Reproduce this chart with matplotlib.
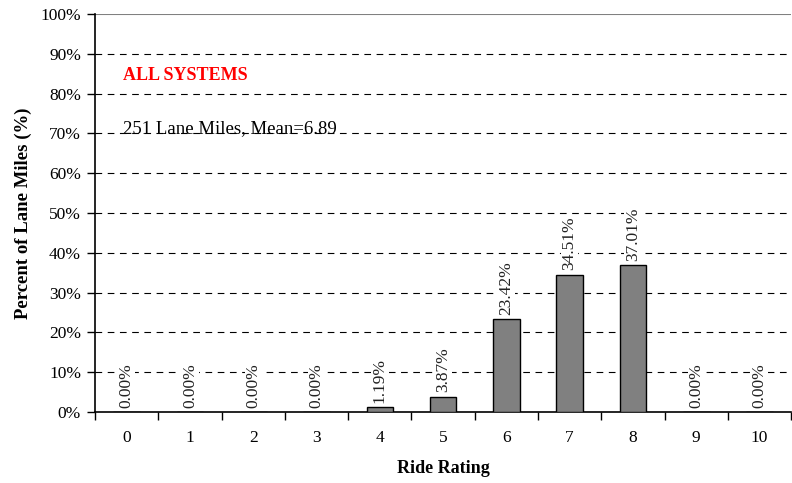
import numpy as np
import matplotlib.pyplot as plt

plt.rcParams['font.family'] = ['Liberation Serif', 'DejaVu Serif']

# 数据
ratings = [0, 1, 2, 3, 4, 5, 6, 7, 8, 9, 10]
percents = [0.00, 0.00, 0.00, 0.00, 1.19, 3.87, 23.42, 34.51, 37.01, 0.00, 0.00]
title_text = "ALL SYSTEMS"
info_text = "251 Lane Miles, Mean=6.89"

fig = plt.figure(figsize=(7.92, 4.83), dpi=100)
ax = fig.add_axes([95 / 792, 1 - 412 / 483, 1 - 95 / 792 - 0.001, (412 - 14) / 483])

x = np.arange(len(ratings))
bars = ax.bar(x, percents, width=0.42, color='#808080', edgecolor='black', linewidth=1.0, zorder=3)

# 柱顶标签（竖排，白底遮住虚线）
for xi, v in zip(x, percents):
    ax.annotate(f"{v:.2f}%", (xi, v), xytext=(0, 3), textcoords='offset points',
                rotation=90, ha='center', va='bottom', fontsize=12.5, color='#222222', zorder=4,
                bbox=dict(facecolor='white', edgecolor='none', pad=0.5))

ax.set_xlim(-0.5, len(ratings) - 0.5)
ax.set_ylim(0, 100)

# 网格
ax.set_yticks(np.arange(0, 101, 10))
ax.set_yticklabels([f"{t}%" for t in range(0, 101, 10)], fontsize=12.5)
for t in range(10, 100, 10):
    ax.axhline(t, color='black', linestyle=(0, (6, 5)), linewidth=0.8, zorder=1)
ax.axhline(100, color='#808080', linewidth=1.5, zorder=1)

# x 轴：刻度在类别边界，标签在中心
ax.set_xticks(np.arange(-0.5, len(ratings) + 0.5, 1))
ax.set_xticklabels([])
ax.set_xticks(x, minor=True)
ax.set_xticklabels([str(r) for r in ratings], minor=True, fontsize=12.5)
ax.tick_params(axis='x', which='major', length=6, direction='out', width=1)
ax.tick_params(axis='x', which='minor', length=0, pad=13)
ax.tick_params(axis='y', length=6, direction='out', width=1, pad=4)

for s in ['top', 'right']:
    ax.spines[s].set_visible(False)
ax.spines['left'].set_linewidth(1.2)
ax.spines['bottom'].set_linewidth(1.2)

ax.set_xlabel("Ride Rating", fontsize=13, fontweight='bold', labelpad=10)
ax.set_ylabel("Percent of Lane Miles (%)", fontsize=13.5, fontweight='bold', labelpad=6)

ax.text(0.04, 0.845, title_text, transform=ax.transAxes, color='red', fontsize=13,
        fontweight='bold', va='center', ha='left')
ax.text(0.04, 0.712, info_text, transform=ax.transAxes, color='black', fontsize=13.5,
        va='center', ha='left')

fig.savefig("out.png", dpi=100)
